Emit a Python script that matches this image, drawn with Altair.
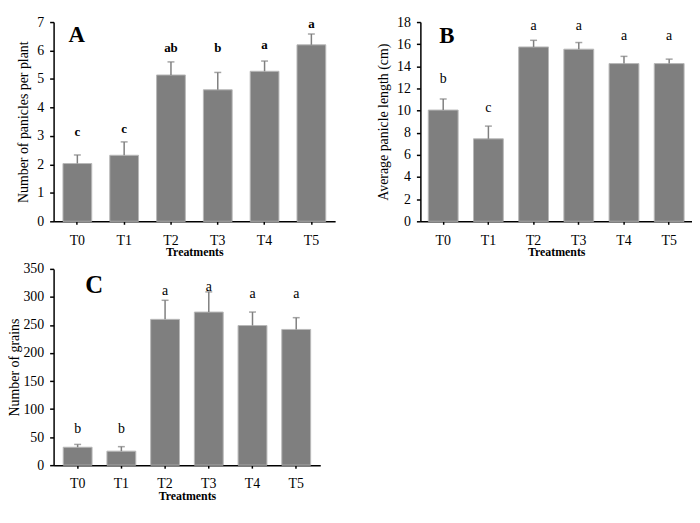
import altair as alt
import pandas as pd

treatments = ["T0", "T1", "T2", "T3", "T4", "T5"]

# Panel A: number of panicles per plant
a_mean = [2.03, 2.32, 5.14, 4.62, 5.27, 6.20]
a_err = [0.30, 0.47, 0.46, 0.61, 0.36, 0.38]
a_letters = ["c", "c", "ab", "b", "a", "a"]
a_letter_y = [3.12, 3.25, 6.08, 6.08, 6.2, 6.93]

# Panel B: average panicle length (cm)
b_mean = [10.05, 7.45, 15.75, 15.55, 14.25, 14.25]
b_err = [1.0, 1.15, 0.6, 0.6, 0.65, 0.4]
b_letters = ["b", "c", "a", "a", "a", "a"]
b_letter_y = [12.85, 10.25, 17.6, 17.6, 16.7, 16.7]

# Panel C: number of grains
c_mean = [32, 25, 260, 273, 249, 242]
c_err = [5, 8, 34, 36, 24, 21]
c_letters = ["b", "b", "a", "a", "a", "a"]
c_letter_y = [64, 64, 311, 317, 305, 305]

SERIF = "Liberation Serif"
BAR_FILL = "#7f7f7f"


def panel(means, errs, letters, letter_y, ymax, ystep, ytitle, tag,
          width, height, pad_in, pad_out, letter_bold, letter_size,
          tag_x, tag_y, tag_size, title_pad):
    df = pd.DataFrame({
        "t": treatments,
        "mean": means,
        "upper": [m + e for m, e in zip(means, errs)],
        "letter": letters,
        "ly": letter_y,
    })
    xscale = alt.Scale(paddingInner=pad_in, paddingOuter=pad_out)
    xaxis = alt.Axis(title="Treatments", titleFontWeight="bold", titleFontSize=12,
                     titlePadding=0, labelAngle=0, labelFontSize=14, tickSize=3,
                     labelPadding=9, domainWidth=1.5, labelOverlap=False)
    yscale = alt.Scale(domain=[0, ymax], nice=False, zero=True)
    yaxis = alt.Axis(values=list(range(0, ymax + 1, ystep)), title=ytitle,
                     titleFontSize=14, titleFontWeight="normal", tickSize=4,
                     labelPadding=6, labelFontSize=14, domainWidth=1.5,
                     titlePadding=title_pad, labelOverlap=False)

    def X():
        return alt.X("t:N", sort=treatments, scale=xscale, axis=xaxis)

    def Y(field):
        return alt.Y(field, type="quantitative", scale=yscale, axis=yaxis)

    base = alt.Chart(df)
    bars = base.mark_bar(color=BAR_FILL, stroke="#b8b8b8", strokeWidth=1).encode(
        x=X(), y=Y("mean"))
    rule = base.mark_rule(color="#7f7f7f", strokeWidth=1.5).encode(
        x=X(), y=Y("mean"), y2="upper:Q")
    cap = base.mark_tick(orient="horizontal", color="#7f7f7f", size=7, thickness=1.5).encode(
        x=X(), y=Y("upper"))
    text = base.mark_text(font=SERIF, fontSize=letter_size, color="black",
                          fontWeight="bold" if letter_bold else "normal",
                          baseline="middle").encode(
        x=X(), y=Y("ly"), text="letter:N")
    tag_df = pd.DataFrame({"tag": [tag]})
    tag_mark = alt.Chart(tag_df).mark_text(font=SERIF, fontSize=tag_size, fontWeight="bold",
                                           align="left", baseline="alphabetic",
                                           color="black").encode(
        x=alt.value(tag_x), y=alt.value(tag_y), text="tag:N")
    return alt.layer(bars, rule, cap, text, tag_mark).properties(width=width, height=height)


A = panel(a_mean, a_err, a_letters, a_letter_y, 7, 1, "Number of panicles per plant", "A",
          284, 201, 0.385, 0.2, True, 13, 15, 20, 23, 6)
B = panel(b_mean, b_err, b_letters, b_letter_y, 18, 2, "Average panicle length (cm)", "B",
          274, 201, 0.34, 0.175, False, 14, 19, 21, 23, 6)
C = panel(c_mean, c_err, c_letters, c_letter_y, 350, 50, "Number of grains", "C",
          269, 198, 0.34, 0.22, False, 14, 32, 24, 25, 1)

chart = alt.concat(A, B, C, columns=2, bounds="flush", align="each",
                   spacing={"row": 48, "column": 86}).properties(
    padding={"left": 0, "top": 5, "right": 0, "bottom": 0}
).configure_view(stroke=None).configure_axis(
    grid=False, domainColor="black", tickColor="black", labelColor="black",
    titleColor="black", labelFont=SERIF, titleFont=SERIF, tickWidth=1.5
)

chart.save("out.html", embed_options={"renderer": "svg", "actions": False})
